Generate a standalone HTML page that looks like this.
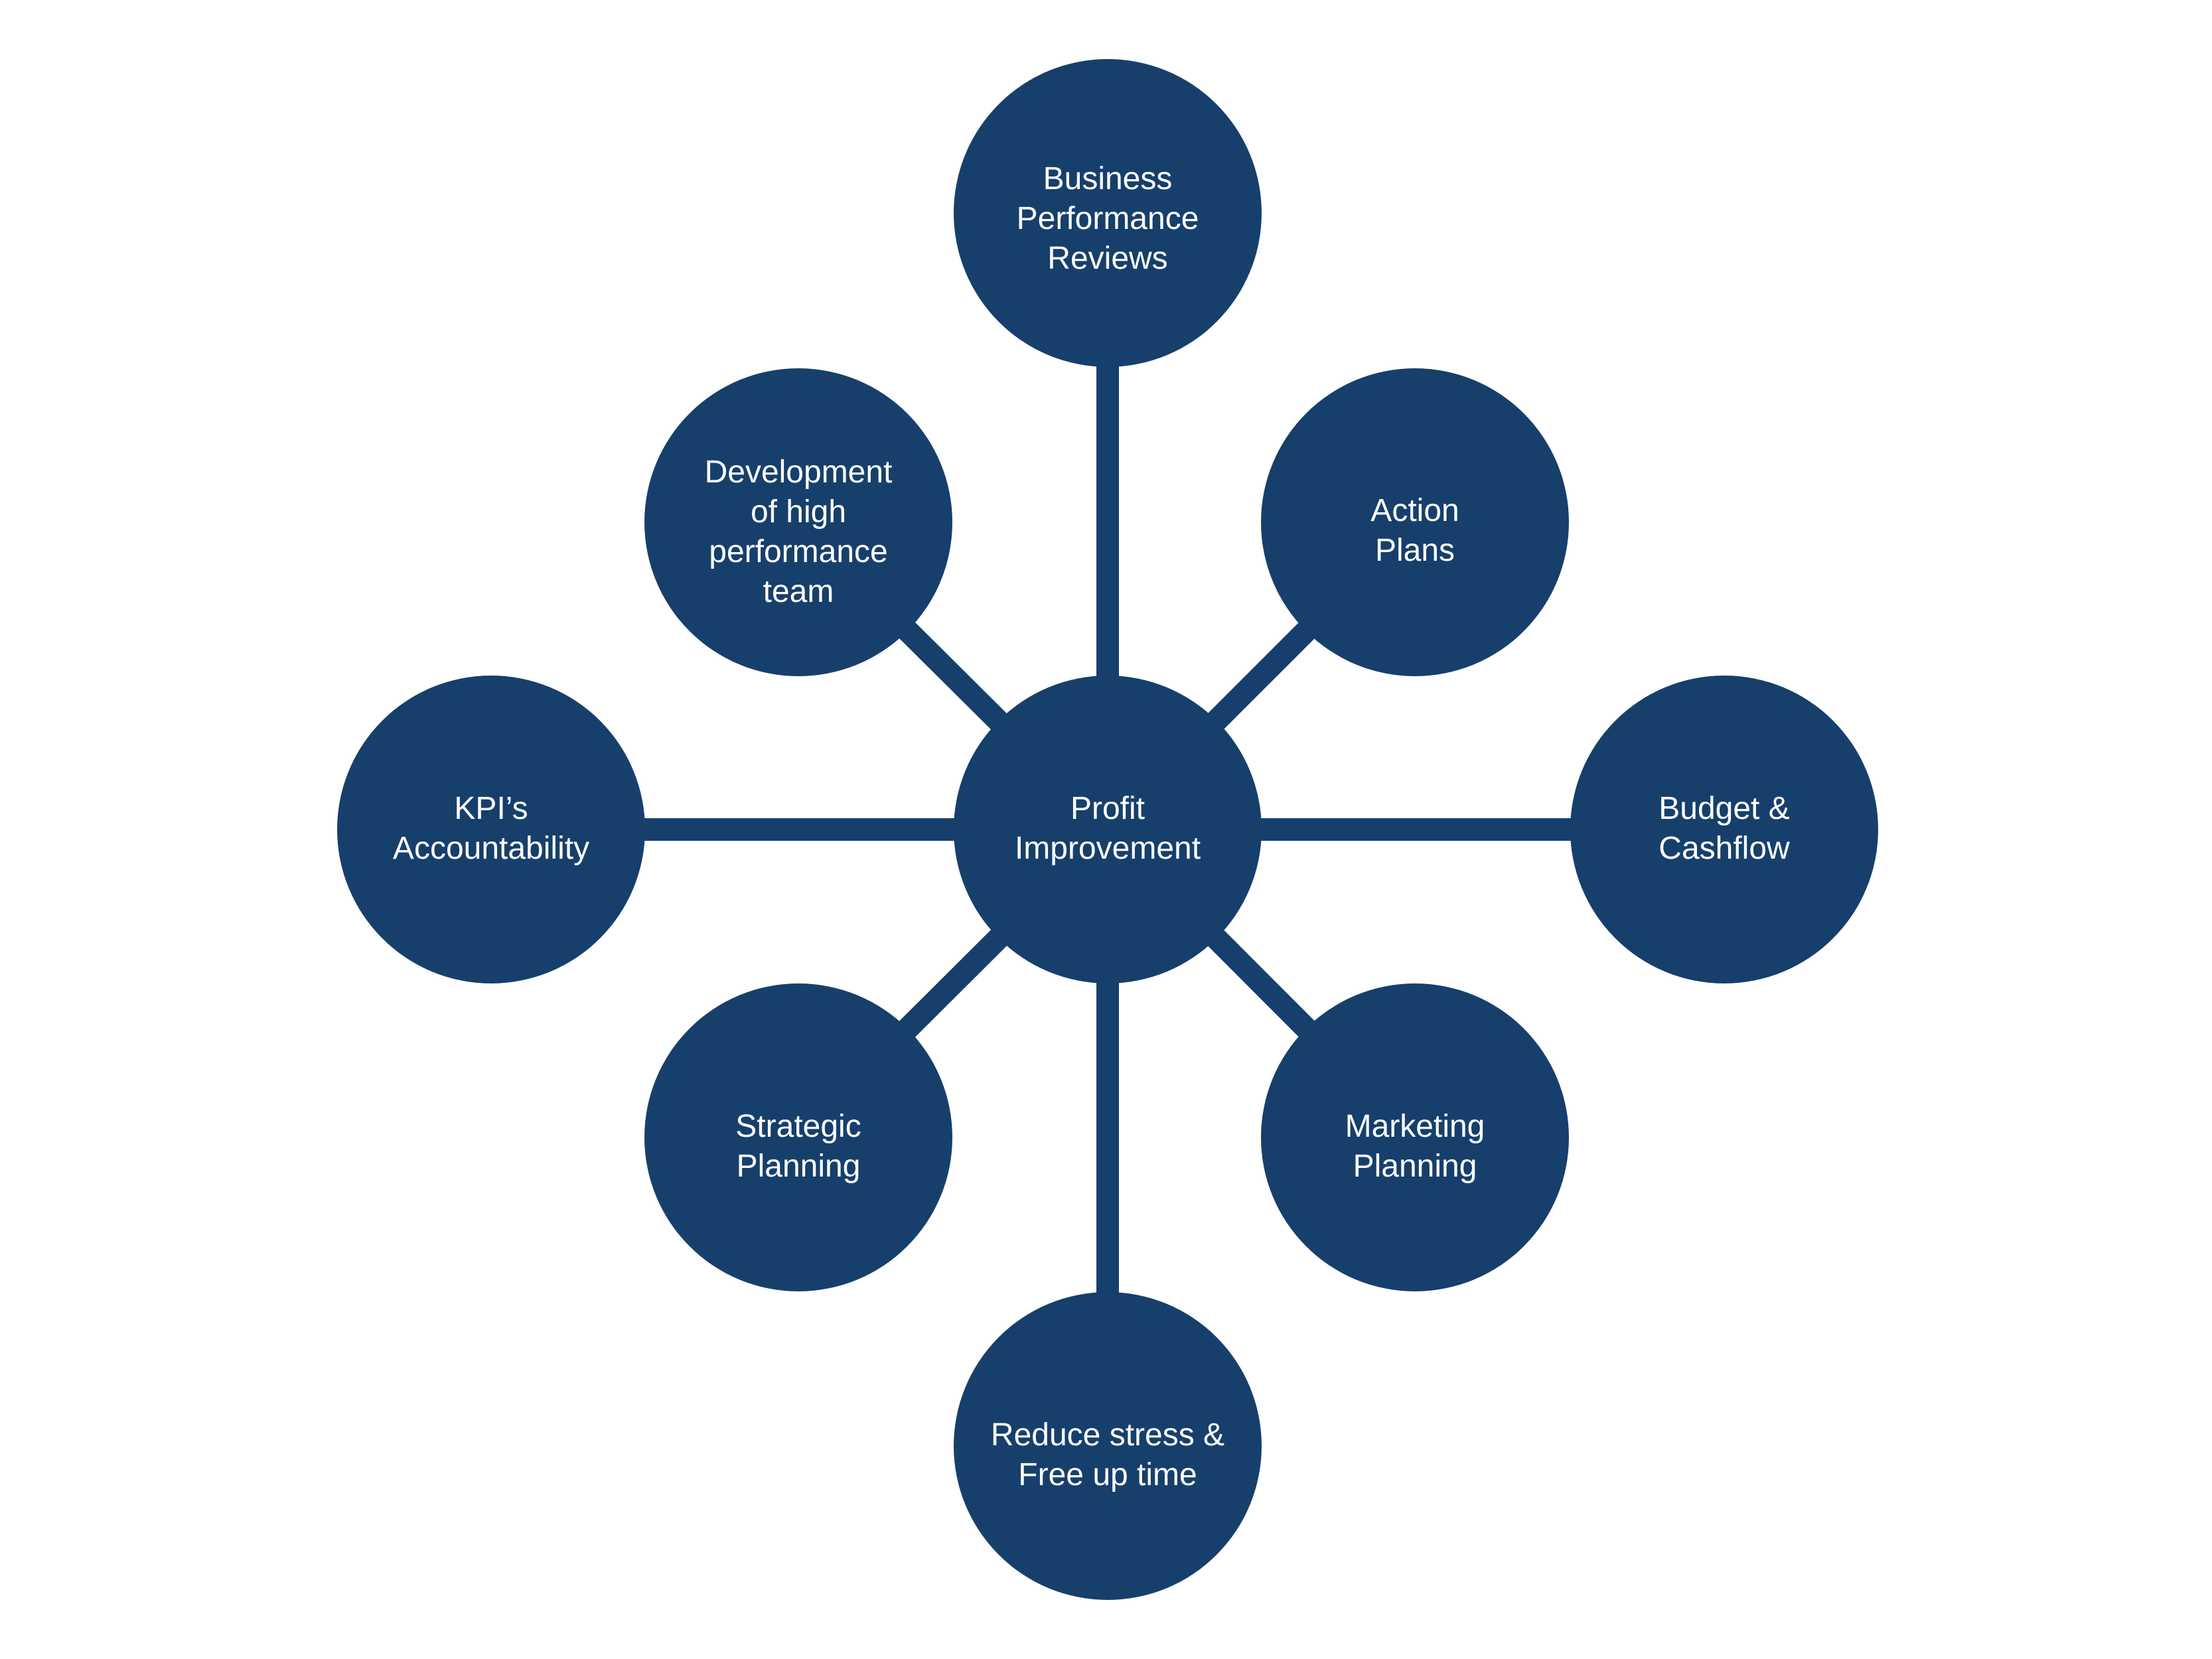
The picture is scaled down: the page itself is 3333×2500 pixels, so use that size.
<!DOCTYPE html>
<html><head><meta charset="utf-8"><style>
html,body{margin:0;padding:0;background:#fff;}
svg{display:block;}
text{font-family:"Liberation Sans",sans-serif;font-size:48px;fill:#fff;text-anchor:middle;}
</style></head><body>
<svg width="3333" height="2500" viewBox="0 0 3333 2500" xmlns="http://www.w3.org/2000/svg">
<g stroke="#173f6b" stroke-width="34">
<line x1="1669" y1="1250" x2="1669" y2="321"/>
<line x1="1669" y1="1250" x2="1669" y2="2179"/>
<line x1="1669" y1="1250" x2="740" y2="1250"/>
<line x1="1669" y1="1250" x2="2598" y2="1250"/>
<line x1="1669" y1="1250" x2="2132" y2="787"/>
<line x1="1669" y1="1250" x2="1203" y2="787"/>
<line x1="1669" y1="1250" x2="2132" y2="1714"/>
<line x1="1669" y1="1250" x2="1203" y2="1714"/>
</g>
<g fill="#173f6b">
<circle cx="1669" cy="1250" r="232"/>
<circle cx="1669" cy="321" r="232"/>
<circle cx="2132" cy="787" r="232"/>
<circle cx="2598" cy="1250" r="232"/>
<circle cx="2132" cy="1714" r="232"/>
<circle cx="1669" cy="2179" r="232"/>
<circle cx="1203" cy="1714" r="232"/>
<circle cx="740" cy="1250" r="232"/>
<circle cx="1203" cy="787" r="232"/>
</g>
<text x="1669" y="1234">Profit</text><text x="1669" y="1294">Improvement</text>
<text x="1669" y="285">Business</text><text x="1669" y="345">Performance</text><text x="1669" y="405">Reviews</text>
<text x="2132" y="785">Action</text><text x="2132" y="845">Plans</text>
<text x="2598" y="1234">Budget &amp;</text><text x="2598" y="1294">Cashflow</text>
<text x="2132" y="1713">Marketing</text><text x="2132" y="1773">Planning</text>
<text x="1669" y="2178">Reduce stress &amp;</text><text x="1669" y="2238">Free up time</text>
<text x="1203" y="1713">Strategic</text><text x="1203" y="1773">Planning</text>
<text x="740" y="1234">KPI’s</text><text x="740" y="1294">Accountability</text>
<text x="1203" y="727">Development</text><text x="1203" y="787">of high</text><text x="1203" y="847">performance</text><text x="1203" y="907">team</text>
</svg>
</body></html>
